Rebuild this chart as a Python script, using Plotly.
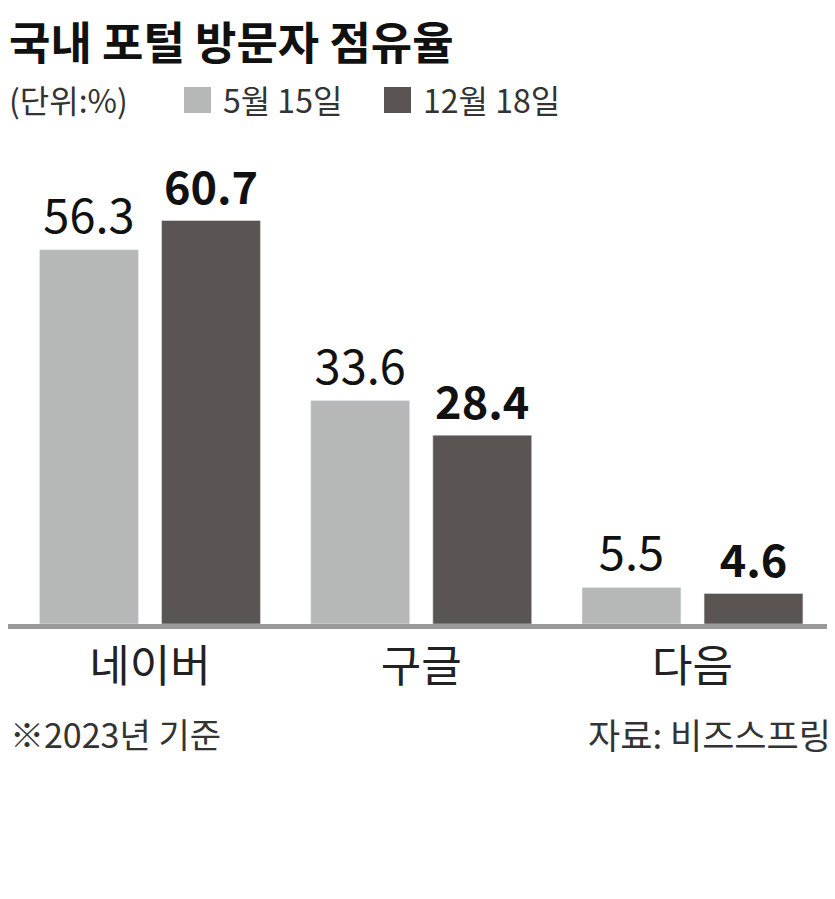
import plotly.graph_objects as go

categories = ["네이버", "구글", "다음"]
series_names = ["5월 15일", "12월 18일"]
may15 = [56.3, 33.6, 5.5]
dec18 = [60.7, 28.4, 4.6]

title = "국내 포털 방문자 점유율"
unit = "(단위:%)"
note_left = "※2023년 기준"
note_right = "자료: 비즈스프링"

LIGHT = "#b5b8b6"
DARK = "#5a5553"
FONT = "Noto Sans CJK KR"

OFF = 8  # page body margin
W, H = 835 - OFF, 899 - OFF
ML, MR, MT, MB = 0, 5, 132, 275
plot_h = H - MT - MB
plot_w = W - ML - MR


def py(y):
    return (H - MB - (y - OFF)) / plot_h


def px(x):
    return (x - OFF - ML) / plot_w


fig = go.Figure()
fig.add_trace(go.Bar(
    x=categories, y=may15, name=series_names[0], marker_color=LIGHT,
    texttemplate="%{y:.1f}", textposition="outside", cliponaxis=False,
    constraintext="none",
    textfont=dict(family=FONT, size=47, color="#111111"),
))
fig.add_trace(go.Bar(
    x=categories, y=dec18, name=series_names[1], marker_color=DARK,
    texttemplate="%{y:.1f}", textposition="outside", cliponaxis=False,
    constraintext="none",
    textfont=dict(family=FONT, size=45, color="#111111", weight="bold"),
))

small = dict(family=FONT, size=32, color="#333333")
annotations = [
    dict(text=title, x=px(8), y=py(41), xref="paper", yref="paper", xanchor="left", yanchor="middle",
         showarrow=False, borderpad=0,
         font=dict(family=FONT, size=45, color="#111111", weight="bold")),
    dict(text=unit, x=px(8), y=py(99), xref="paper", yref="paper", xanchor="left", yanchor="middle",
         showarrow=False, borderpad=0, font=small),
    dict(text=series_names[0], x=px(222), y=py(99), xref="paper", yref="paper", xanchor="left",
         yanchor="middle", showarrow=False, borderpad=0, font=small),
    dict(text=series_names[1], x=px(422), y=py(99), xref="paper", yref="paper", xanchor="left",
         yanchor="middle", showarrow=False, borderpad=0, font=small),
    dict(text=note_left, x=px(8), y=py(733), xref="paper", yref="paper", xanchor="left",
         yanchor="middle", showarrow=False, font=dict(family=FONT, size=34, color="#333333")),
    dict(text=note_right, x=px(833), y=py(733), xref="paper", yref="paper", xanchor="right",
         yanchor="middle", showarrow=False, font=dict(family=FONT, size=35, color="#333333")),
]

shapes = [
    dict(type="rect", xref="paper", yref="paper", x0=px(184), x1=px(211), y0=py(113), y1=py(87),
         fillcolor=LIGHT, line=dict(width=0)),
    dict(type="rect", xref="paper", yref="paper", x0=px(384), x1=px(411), y0=py(113), y1=py(87),
         fillcolor=DARK, line=dict(width=0)),
]

fig.update_layout(
    width=W, height=H,
    margin=dict(l=ML, r=MR, t=MT, b=MB),
    paper_bgcolor="white", plot_bgcolor="white",
    barmode="group", bargap=0.10, bargroupgap=0.19,
    showlegend=False,
    annotations=annotations, shapes=shapes,
    font=dict(family=FONT),
)
fig.update_xaxes(
    range=[-0.5235, 2.507], showline=True, linecolor="#9a9a9a", linewidth=5,
    ticks="", showgrid=False, zeroline=False,
    tickfont=dict(family=FONT, size=44, color="#222222"),
)
fig.update_yaxes(range=[0, 72.8], visible=False, showgrid=False, zeroline=False)

fig.write_html("out.html")
